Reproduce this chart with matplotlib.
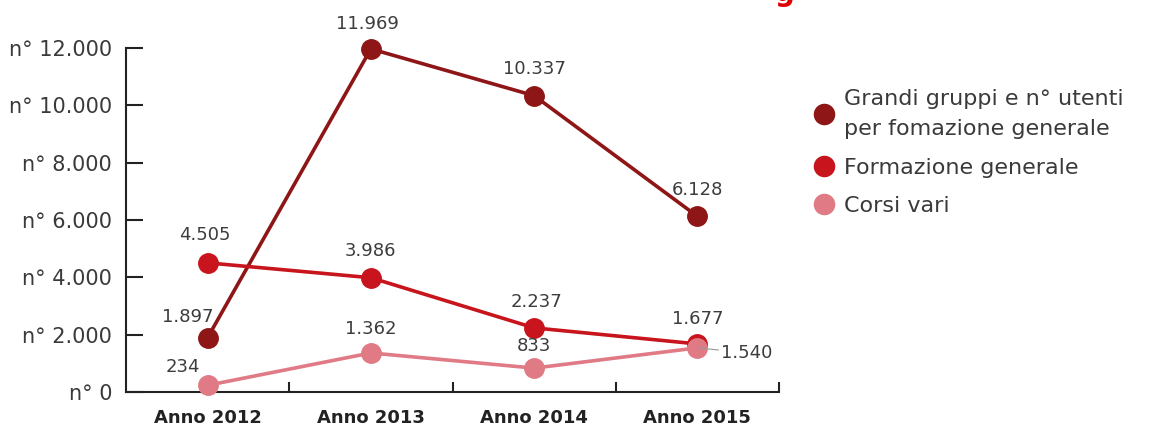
import matplotlib.pyplot as plt

years = ['Anno 2012', 'Anno 2013', 'Anno 2014', 'Anno 2015']
grandi_gruppi = [1897, 11969, 10337, 6128]
formazione_generale = [4505, 3986, 2237, 1677]
corsi_vari = [234, 1362, 833, 1540]
y_ticks = [0, 2000, 4000, 6000, 8000, 10000, 12000]

series_labels = ['Grandi gruppi e n° utenti\nper fomazione generale',
                 'Formazione generale',
                 'Corsi vari']
colors = ['#8e1616', '#c8141c', '#e07a85']


def fmt_it(v):
    return f'{v:,}'.replace(',', '.')


fig = plt.figure(figsize=(11.51, 4.28), dpi=100)
ax = fig.add_axes([126 / 1151, 1 - 392 / 428, (779 - 126) / 1151, (392 - 48) / 428])

x = list(range(len(years)))
for values, color, label in zip([grandi_gruppi, formazione_generale, corsi_vari], colors, series_labels):
    ax.plot(x, values, color=color, lw=2.6, marker='o', markersize=14,
            clip_on=False, zorder=3, label=label)

# data labels, offsets in pixels
offsets_grandi = [(-20, 21), (-3, 25), (0, 27), (0, 26)]
offsets_form = [(-3, 28), (0, 27), (2, 26), (0, 25)]
offsets_corsi = [(-25, 18), (0, 24), (0, 22), None]
label_color = '#3c3c3c'
for values, offs in [(grandi_gruppi, offsets_grandi), (formazione_generale, offsets_form),
                     (corsi_vari, offsets_corsi)]:
    for i, v in enumerate(values):
        if offs[i] is None:
            continue
        ax.annotate(fmt_it(v), (x[i], v), xytext=offs[i], textcoords='offset pixels',
                    ha='center', va='center', fontsize=13, color=label_color,
                    annotation_clip=False)

# 1.540 with a leader line
ax.annotate(fmt_it(corsi_vari[3]), (x[3], corsi_vari[3]), xytext=(24, -5),
            textcoords='offset pixels', ha='left', va='center', fontsize=13,
            color=label_color, annotation_clip=False,
            arrowprops=dict(arrowstyle='-', color='#999999', lw=0.8,
                            shrinkA=0, shrinkB=1))

ax.set_xlim(-0.5, 3.5)
ax.set_ylim(0, 12000)
ax.set_yticks(y_ticks)
ax.set_yticklabels(['n° ' + fmt_it(t) for t in y_ticks], fontsize=15, color='#3a3a3a')
ax.set_xticks(x)
ax.set_xticklabels(years, fontsize=13, fontweight='bold', color='#222222')
ax.set_xticks([0.5, 1.5, 2.5, 3.5], minor=True)
ax.tick_params(axis='x', which='major', length=0, pad=12)
ax.tick_params(axis='x', which='minor', direction='in', length=7, width=1.5, color='#222222')
ax.tick_params(axis='y', direction='in', length=12, width=1.5, color='#222222', pad=10)
for side in ['top', 'right']:
    ax.spines[side].set_visible(False)
for side in ['left', 'bottom']:
    ax.spines[side].set_linewidth(1.5)
    ax.spines[side].set_color('#222222')

leg_handles = [plt.Line2D([], [], color=c, marker='o', markersize=14.5, lw=0) for c in colors]
leg = fig.legend(leg_handles, series_labels, loc='upper left', bbox_to_anchor=(0.687, 0.838),
                 frameon=False, fontsize=16, handletextpad=0.3, labelspacing=0.84,
                 handlelength=1.2, labelcolor='#3a3a3a')
for t in leg.get_texts():
    t.set_linespacing(1.6)

# cut-off title at the very top
fig.text(785 / 1151, 1 - 1 / 428, 'g', color='#e00000', fontsize=20, fontweight='bold',
         ha='center', va='baseline')

fig.savefig('out.png', dpi=100)
